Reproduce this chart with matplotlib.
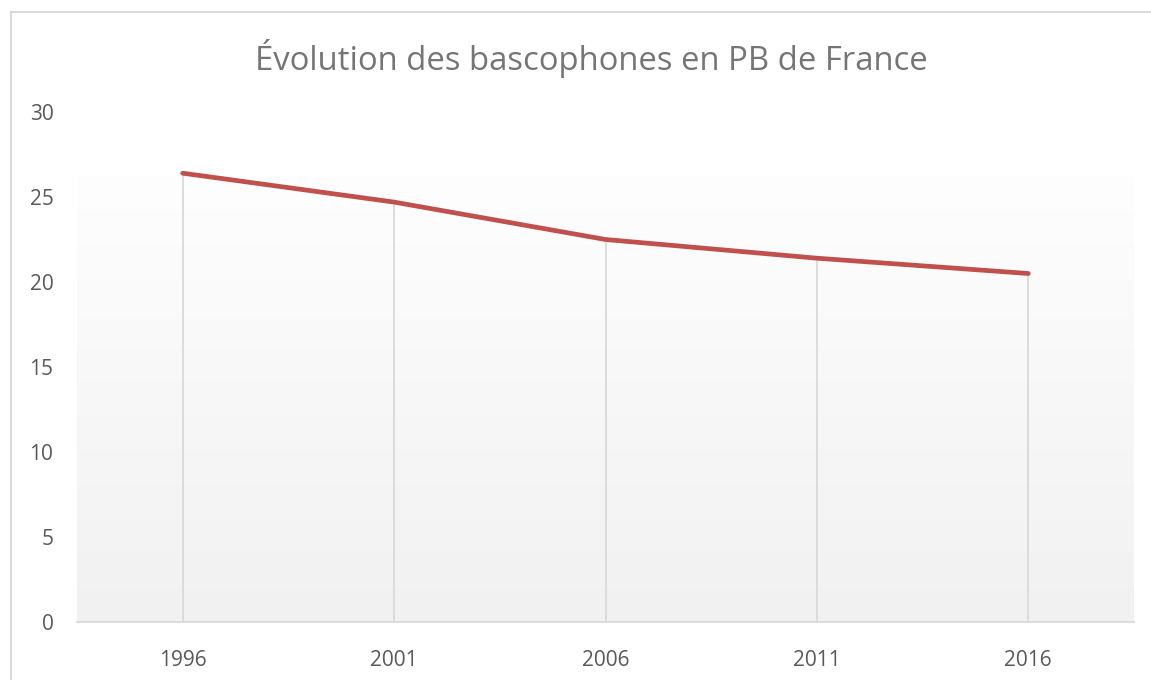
import numpy as np
import matplotlib.pyplot as plt
from matplotlib.patches import Rectangle

# Data
years = ['1996', '2001', '2006', '2011', '2016']
values = [26.4, 24.7, 22.5, 21.4, 20.5]
yticks = [0, 5, 10, 15, 20, 25, 30]

plt.rcParams['font.family'] = ['Open Sans', 'DejaVu Sans']

fig = plt.figure(figsize=(11.51, 6.8), dpi=100)
ax = fig.add_axes([77 / 1151, 1 - 622 / 680, (1134 - 77) / 1151, (622 - 112) / 680])

# chart border
fig.patches.append(Rectangle((11 / 1151, -0.05), 1.1, 1 - 12 / 680 + 0.05,
                             transform=fig.transFigure, fill=False,
                             edgecolor='#d9d9d9', linewidth=1.5, zorder=0))

x = np.arange(len(years))

# plot-area gradient (light grey bottom to near white top)
grad = np.linspace(0, 1, 256).reshape(-1, 1)
ax.imshow(grad, extent=[0, 1, 0, 0.873], transform=ax.transAxes,
          cmap=plt.matplotlib.colors.LinearSegmentedColormap.from_list('g', ['#f1f1f1', '#fefefe']),
          origin='lower', aspect='auto', zorder=0)

# drop lines
ax.vlines(x, 0, values, colors='#d9d9d9', linewidth=1.3, zorder=1)
ax.plot(x, values, color='#c0504d', linewidth=3.4, solid_capstyle='round', zorder=3)

ax.set_xlim(-0.5, len(years) - 0.5)
ax.set_ylim(0, 30)
ax.set_xticks(x)
ax.set_xticklabels(years)
ax.set_yticks(yticks)

for s in ['top', 'right', 'left']:
    ax.spines[s].set_visible(False)
ax.spines['bottom'].set_color('#d9d9d9')
ax.spines['bottom'].set_linewidth(1.3)
ax.tick_params(axis='both', length=0, labelsize=15, colors='#595959')
ax.tick_params(axis='y', pad=17)
ax.tick_params(axis='x', pad=20)

fig.text(591 / 1151, 1 - 58 / 680, 'Évolution des bascophones en PB de France',
         ha='center', va='center', fontsize=23.7, color='#757575')

fig.savefig('out.png', dpi=100)
